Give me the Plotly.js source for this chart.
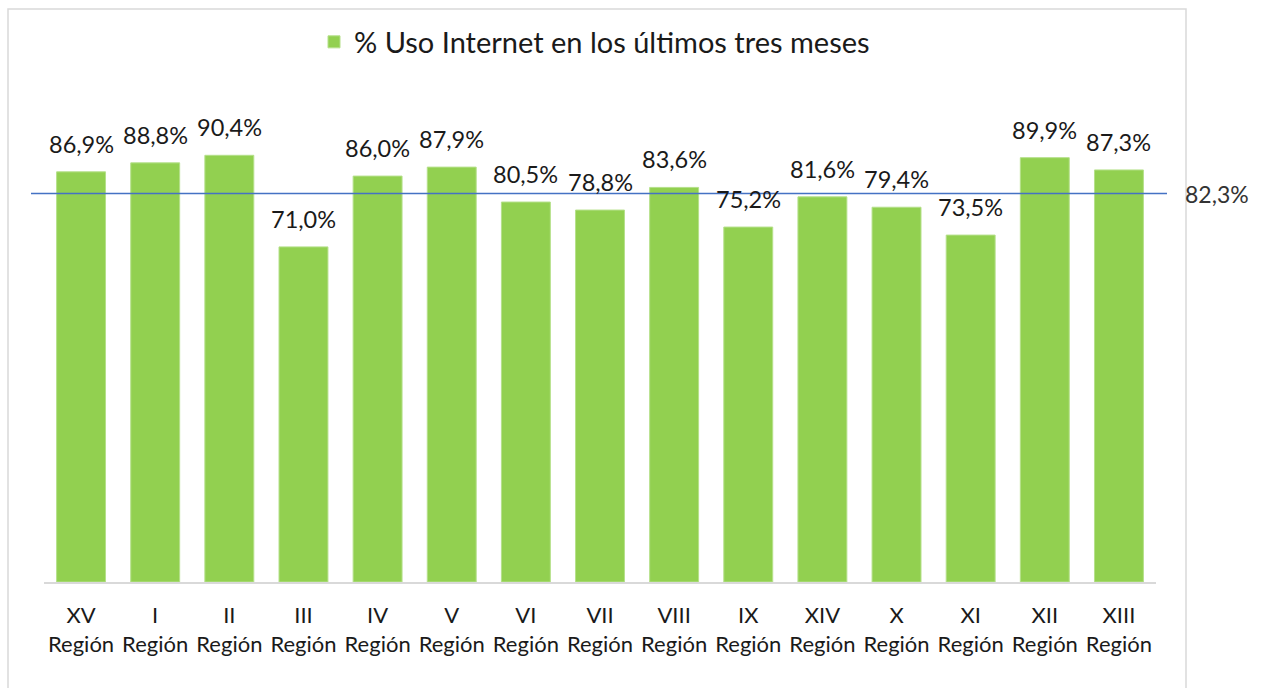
<!DOCTYPE html>
<html>
<head>
<meta charset="utf-8">
<script src="https://cdn.plot.ly/plotly-3.0.1.min.js"></script>
<style>
  html, body { margin: 0; padding: 0; background: #fff; }
  #chart { width: 1261px; height: 688px; }
</style>
</head>
<body>
<div id="chart"></div>
<script>
const regionNumerals = ["XV", "I", "II", "III", "IV", "V", "VI", "VII", "VIII", "IX", "XIV", "X", "XI", "XII", "XIII"];
const regionWord = "Región";
const usoInternet = [86.9, 88.8, 90.4, 71.0, 86.0, 87.9, 80.5, 78.8, 83.6, 75.2, 81.6, 79.4, 73.5, 89.9, 87.3];
const promedioNacional = 82.3;
const seriesName = "% Uso Internet en los últimos tres meses";

const categories = regionNumerals.map(r => r + "<br>" + regionWord);
const fmt = v => v.toFixed(1).replace(".", ",") + "%";

const FONT = "Lato, 'Open Sans', sans-serif";
const TXT = "#1a1a1a";

// plot area geometry in px
const L = 44, R = 1156, T = 110, B = 582, W = 1261, H = 688;
const px2x = p => (p - L) / (R - L);
const px2y = p => (B - p) / (B - T);

const trace = {
  type: "bar",
  x: categories,
  y: usoInternet,
  name: seriesName,
  marker: { color: "#92D050", line: { color: "#B5E08A", width: 1 } },
  hoverinfo: "x+y"
};

const annotations = categories.map((c, i) => ({
  x: c, y: usoInternet[i], xref: "x", yref: "y",
  text: fmt(usoInternet[i]), showarrow: false,
  yanchor: "bottom", yshift: 12,
  font: { family: FONT, size: 23.5, color: TXT }
}));
annotations.push({
  xref: "paper", yref: "y", x: px2x(1183), y: promedioNacional,
  xanchor: "left", yanchor: "middle", showarrow: false,
  text: fmt(promedioNacional),
  font: { family: FONT, size: 23, color: "#333333" }
});

const layout = {
  width: W, height: H,
  margin: { l: L, r: W - R, t: T, b: H - B, pad: 0 },
  paper_bgcolor: "#ffffff",
  plot_bgcolor: "#ffffff",
  bargap: 0.34,
  showlegend: true,
  legend: {
    orientation: "h",
    x: px2x(314), xanchor: "left",
    y: px2y(42), yanchor: "middle",
    font: { family: FONT, size: 29, color: TXT },
    itemwidth: 30,
    bgcolor: "rgba(0,0,0,0)"
  },
  xaxis: {
    type: "category",
    showgrid: false,
    showline: true, linecolor: "#d9d9d9", linewidth: 1.5,
    ticks: "",
    ticklabelstandoff: 13,
    tickfont: { family: FONT, size: 22, color: TXT },
    fixedrange: true
  },
  yaxis: {
    range: [0, 100],
    visible: false,
    showgrid: false,
    zeroline: false,
    fixedrange: true
  },
  annotations: annotations,
  shapes: [
    {
      type: "line", xref: "paper", yref: "y",
      x0: px2x(31), x1: px2x(1167), y0: promedioNacional, y1: promedioNacional,
      line: { color: "#4472C4", width: 1.5 }
    },
    {
      type: "rect", xref: "paper", yref: "paper",
      x0: px2x(8), x1: px2x(1186), y0: px2y(700), y1: px2y(9),
      line: { color: "#d9d9d9", width: 1.5 }, fillcolor: "rgba(0,0,0,0)", layer: "below"
    }
  ]
};

Plotly.newPlot("chart", [trace], layout, { displayModeBar: false });
</script>
</body>
</html>
